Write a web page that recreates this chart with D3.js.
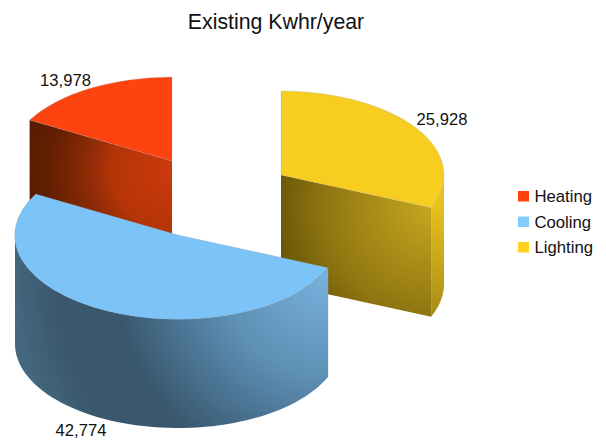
<!DOCTYPE html>
<html><head><meta charset="utf-8">
<script src="https://cdn.jsdelivr.net/npm/d3@7"></script>
<style>html,body{margin:0;padding:0;background:#fff}svg{display:block}text{font-family:"Liberation Sans",Arial,sans-serif;fill:#111}</style>
</head><body><svg id="c" width="606" height="443"></svg>
<script>
const categories = ["Heating", "Cooling", "Lighting"];
const values = [13978, 42774, 25928];
const topColors = ["#fd430f", "#7cc3f8", "#f7cd1f"];
const legendColors = ["#ff420e", "#83caff", "#ffd320"];
const chartTitle = "Existing Kwhr/year";

// layout of the exploded 3D pie
const rx = 163, ry = 84, depth = 109;
const centers = [[172, 161], [178, 235], [281, 175]];
const labelPos = [[65.5, 86], [81, 436], [442, 125]];

const svg = d3.select("#c");
const defs = svg.append("defs");
function radial(id, cx, cy, r, stops) {
  const g = defs.append("radialGradient").attr("id", id).attr("gradientUnits", "userSpaceOnUse")
    .attr("cx", cx).attr("cy", cy).attr("r", r);
  stops.forEach(s => g.append("stop").attr("offset", s[0]).attr("stop-color", s[1]));
}
function grad(id, x1, y1, x2, y2, stops) {
  const g = defs.append("linearGradient").attr("id", id).attr("gradientUnits", "userSpaceOnUse")
    .attr("x1", x1).attr("y1", y1).attr("x2", x2).attr("y2", y2);
  stops.forEach(s => g.append("stop").attr("offset", s[0]).attr("stop-color", s[1]));
}
radial("gH", 172, 170, 150, [[0, "#cc3a0c"], [0.4, "#b53408"], [0.55, "#8f2c06"], [0.8, "#662002"], [1, "#561a00"]]);
radial("gL", 431, 207, 175, [[0, "#c6a620"], [0.62, "#8f7510"], [0.88, "#6b5808"], [1, "#64520a"]]);
grad("gLo", 0, 207, 0, 316, [[0, "#e6c01e"], [1, "#a88c16"]]);
radial("gC", 327, 272, 315, [[0, "#78b2df"], [0.33, "#5f90b5"], [0.42, "#5481a4"], [0.68, "#38566c"], [0.86, "#3a576d"], [1, "#44687f"]]);

// pie runs counter-clockwise from 12 o'clock
const arcs = d3.pie().sort(null).startAngle(0).endAngle(-2 * Math.PI)(values);
const pt = (i, a) => [centers[i][0] + Math.sin(a) * rx, centers[i][1] - Math.cos(a) * ry];
const pathLine = d3.line();
const unitArc = d3.arc().innerRadius(0).outerRadius(1);
const sample = (i, a0, a1) => d3.range(0, 61).map(k => pt(i, a0 + (a1 - a0) * k / 60));
function band(pts) {
  const low = pts.map(p => [p[0], p[1] + depth]).reverse();
  return pathLine(pts.concat(low)) + "Z";
}
function drawTop(i) {
  svg.append("path").attr("d", unitArc({startAngle: arcs[i].startAngle, endAngle: arcs[i].endAngle}))
    .attr("transform", `translate(${centers[i]}) scale(${rx},${ry})`)
    .attr("fill", topColors[i]).attr("stroke", "#9a9a9a").attr("stroke-opacity", .4)
    .attr("stroke-width", .6).attr("vector-effect", "non-scaling-stroke");
}
const norm = a => a < 0 ? a + 2 * Math.PI : a;
const H = 0, C = 1, L = 2;

// Heating: cut face
svg.append("path").attr("d", band([centers[H], pt(H, norm(arcs[H].endAngle))])).attr("fill", "url(#gH)");
drawTop(H);

// Lighting: cut face and outer wall
const lCut = norm(arcs[L].startAngle);
svg.append("path").attr("d", band(sample(L, Math.PI / 2, lCut))).attr("fill", "url(#gLo)");
svg.append("path").attr("d", band([centers[L], pt(L, lCut)])).attr("fill", "url(#gL)");
drawTop(L);

// Cooling: outer wall
const cB = norm(arcs[C].endAngle);
svg.append("path").attr("d", band(sample(C, cB, 3 * Math.PI / 2))).attr("fill", "url(#gC)");
drawTop(C);

// Title
svg.append("text").attr("x", 276).attr("y", 29).attr("text-anchor", "middle").attr("font-size", 21.3).text(chartTitle);

// Value labels
svg.selectAll("text.v").data(values).join("text").attr("class", "v")
  .attr("x", (d, i) => labelPos[i][0]).attr("y", (d, i) => labelPos[i][1])
  .attr("text-anchor", "middle").attr("font-size", 16.6).text(d3.format(","));

// Legend
const ly = d3.scalePoint().domain(categories).range([196, 247]);
const lg = svg.selectAll("g.l").data(categories).join("g").attr("class", "l")
  .attr("transform", d => `translate(518,${ly(d)})`);
lg.append("rect").attr("x", 0).attr("y", -5).attr("width", 11).attr("height", 10.5)
  .attr("fill", (d, i) => legendColors[i]);
lg.append("text").attr("x", 16.5).attr("y", 6).attr("font-size", 16.7).text(d => d);
</script></body></html>
